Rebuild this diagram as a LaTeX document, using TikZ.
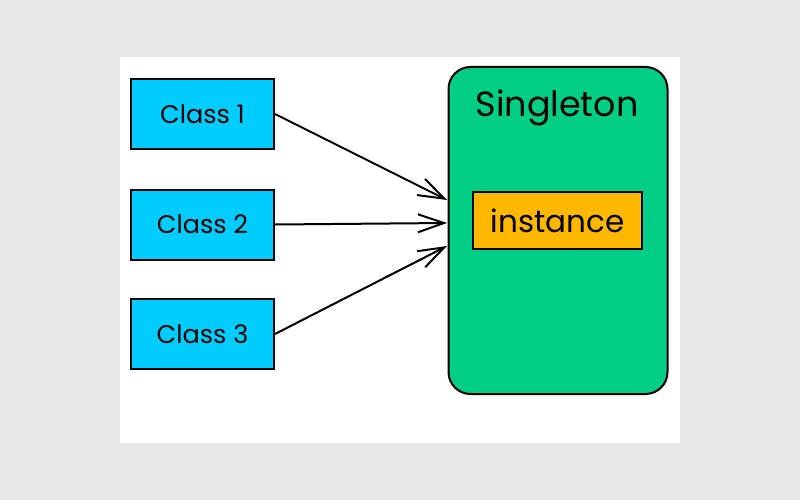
\documentclass[tikz,border=0pt]{standalone}
\usepackage{fontspec}
\setmainfont{Poppins}
\usepackage{xcolor}
\usetikzlibrary{arrows.meta,positioning}

\definecolor{bggray}{RGB}{232,232,232}
\definecolor{clscyan}{RGB}{0,204,255}
\definecolor{singgreen}{RGB}{0,206,134}
\definecolor{instorange}{RGB}{255,184,0}

\tikzset{
    cls/.style={draw, fill=clscyan, line width=2pt, minimum width=143pt, minimum height=70pt,
        font=\fontsize{25.5}{30}\selectfont, text depth=-2pt},
    arr/.style={-{Straight Barb[length=26pt,width=18pt,line width=2pt]}, line width=2pt}
}

\begin{document}
\begin{tikzpicture}[x=1pt,y=-1pt]
        \fill[bggray] (0,0) rectangle (800,500);
        \fill[white] (120,57) rectangle (680,443);

        \node[cls] (c1) at (202.5,114) {Class 1};
        \node[cls] (c2) at (202.5,224.5) {Class 2};
        \node[cls] (c3) at (202.5,334) {Class 3};

        \node[draw, fill=singgreen, rounded corners=22pt, line width=2pt,
            minimum width=219pt, minimum height=327pt] (s) at (558,230.5) {};
        \node[font=\fontsize{35}{40}\selectfont] (sname) at (557,108) {Singleton};
        \node[draw, fill=instorange, line width=1.6pt, minimum width=169pt, minimum height=57pt,
            font=\fontsize{31}{36}\selectfont] (inst) at (557.5,220.5) {instance};

        \coordinate (t1) at (447,200);
        \coordinate (t2) at (447,223);
        \coordinate (t3) at (447,246);

        \draw[arr] (c1.east) -- (t1);
        \draw[arr] (c2.east) -- (t2);
        \draw[arr] (c3.east) -- (t3);

    \end{tikzpicture}
\end{document}
